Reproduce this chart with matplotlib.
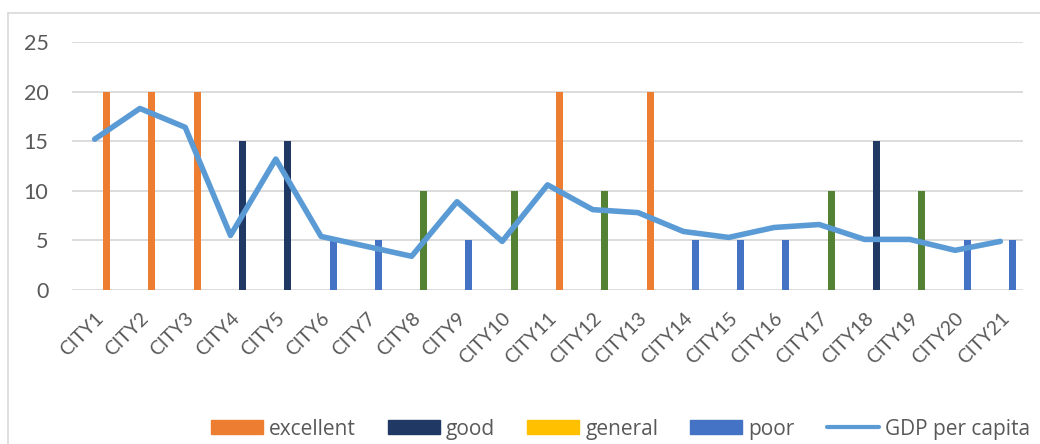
import matplotlib.pyplot as plt
from matplotlib.patches import Patch
from matplotlib.lines import Line2D
from matplotlib import font_manager
import numpy as np

cities = ['CITY%d' % i for i in range(1, 22)]
ratings = ['excellent', 'excellent', 'excellent', 'good', 'good', 'poor', 'poor',
           'general', 'poor', 'general', 'excellent', 'general', 'excellent', 'poor',
           'poor', 'poor', 'general', 'good', 'general', 'poor', 'poor']
scores = [20, 20, 20, 15, 15, 5, 5, 10, 5, 10, 20, 10, 20, 5, 5, 5, 10, 15, 10, 5, 5]
gdp = [15.2, 18.3, 16.4, 5.5, 13.2, 5.4, 4.4, 3.4, 8.9, 4.9, 10.6,
       8.1, 7.8, 5.9, 5.3, 6.3, 6.6, 5.1, 5.1, 4.0, 4.9]

# bars in the chart use green for "general", the legend swatch is gold
bar_colors = {'excellent': '#ED7D31', 'good': '#203864', 'general': '#548235', 'poor': '#4472C4'}
legend_colors = {'excellent': '#ED7D31', 'good': '#203864', 'general': '#FFC000', 'poor': '#4472C4'}
line_color = '#5B9BD5'
text_color = '#595959'

installed = {f.name for f in font_manager.fontManager.ttflist}
tick_font = 'Lato' if 'Lato' in installed else 'DejaVu Sans'
legend_font = 'Open Sans' if 'Open Sans' in installed else tick_font

fig = plt.figure(figsize=(10.4, 4.44), dpi=100)
ax = fig.add_axes([72 / 1040, 1 - 290 / 444, 951 / 1040, 248 / 444])

# chart area border (left and top only are visible)
bx, by = 7.5 / 1040, 1 - 13.5 / 444
fig.add_artist(Line2D([bx, bx], [0, by], transform=fig.transFigure, color='#D9D9D9', linewidth=1.2))
fig.add_artist(Line2D([bx, 1], [by, by], transform=fig.transFigure, color='#D9D9D9', linewidth=1.2))

x = np.arange(len(cities))
ax.bar(x + 0.265, scores, width=0.155, color=[bar_colors[r] for r in ratings], zorder=2)
ax.plot(x, gdp, color=line_color, linewidth=4, solid_capstyle='round', solid_joinstyle='round', zorder=3)

ax.set_xlim(-0.5, len(cities) - 0.5)
ax.set_ylim(0, 25)
ax.set_yticks(range(0, 26, 5))
ax.yaxis.grid(True, color='#D9D9D9', linewidth=1.3, zorder=0)
ax.set_axisbelow(True)
for s in ax.spines.values():
    s.set_visible(False)
ax.tick_params(axis='both', length=0, colors=text_color)
ax.tick_params(axis='y', pad=17)
ax.tick_params(axis='x', pad=14)
ax.set_xticks(x)
ax.set_xticklabels(cities, rotation=45, ha='right', va='top', rotation_mode='anchor',
                   fontsize=14, color=text_color, family=tick_font)
for lbl in ax.get_yticklabels():
    lbl.set_fontsize(15.5)
    lbl.set_family(tick_font)

handles = [Patch(color=legend_colors[k]) for k in ['excellent', 'good', 'general', 'poor']]
handles.append(Line2D([0], [0], color=line_color, linewidth=3, solid_capstyle='round'))
labels = ['excellent', 'good', 'general', 'poor', 'GDP per capita']
leg = fig.legend(handles, labels, loc='center right', bbox_to_anchor=(1030 / 1040, 15 / 444), ncol=5,
                 frameon=False, prop={'family': legend_font, 'size': 15}, handlelength=2.5,
                 handleheight=0.67, handletextpad=0.29, columnspacing=1.54, labelcolor=text_color,
                 borderpad=0, borderaxespad=0)

fig.savefig('out.png', dpi=100)
